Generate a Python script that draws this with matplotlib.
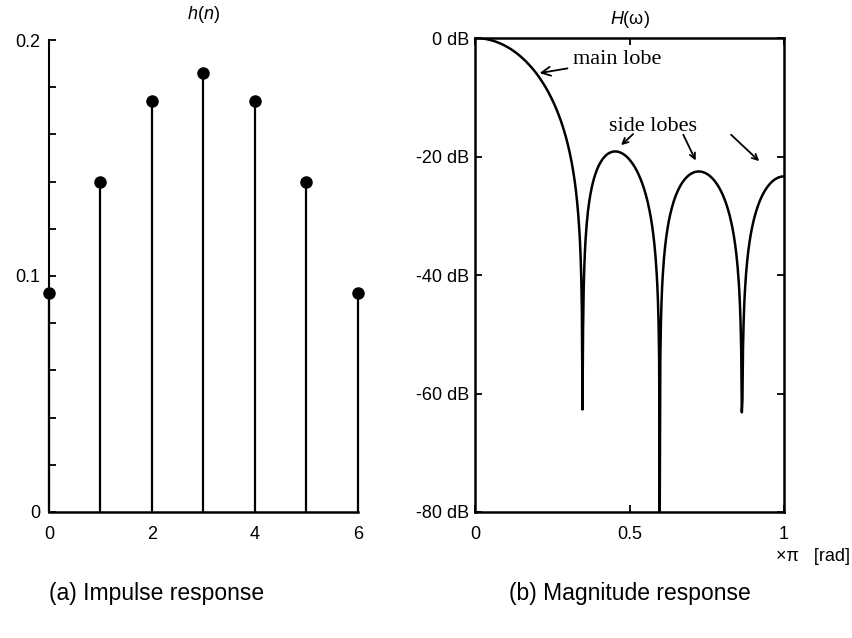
import numpy as np
import matplotlib
matplotlib.use('Agg')
import matplotlib.pyplot as plt

# impulse response
n = [0, 1, 2, 3, 4, 5, 6]
h = [0.093, 0.140, 0.174, 0.186, 0.174, 0.140, 0.093]

# panel (b) is the magnitude of the DFT of h
nfft = 1024
H = np.abs(np.fft.rfft(h, nfft))
w = np.arange(len(H)) / (len(H) - 1)
HdB = 20 * np.log10(np.maximum(H / H[0], 1e-4))

plt.rcParams['font.family'] = 'Liberation Sans'
plt.rcParams['mathtext.fontset'] = 'custom'
plt.rcParams['mathtext.rm'] = 'Liberation Sans'
plt.rcParams['mathtext.it'] = 'Liberation Sans:italic'

fig = plt.figure(figsize=(8.53, 6.38), dpi=100)

# ---- (a) impulse response
ax1 = fig.add_axes([0.0574, 0.1975, 0.3623, 0.7398])
ml, sl, bl = ax1.stem(n, h, linefmt='k-', markerfmt='ko', basefmt=' ')
plt.setp(sl, linewidth=1.6)
plt.setp(ml, markersize=8)
ax1.set_xlim(0, 6)
ax1.set_ylim(0, 0.2)
ax1.spines['top'].set_visible(False)
ax1.spines['right'].set_visible(False)
ax1.spines['left'].set_linewidth(1.5)
ax1.spines['bottom'].set_linewidth(1.8)
ax1.set_xticks([0, 2, 4, 6])
ax1.set_yticks([0, 0.1, 0.2])
ax1.set_yticklabels(['0', '0.1', '0.2'])
ax1.set_yticks(np.arange(0, 0.201, 0.02), minor=True)
ax1.tick_params(axis='x', length=0, pad=10, labelsize=13)
ax1.tick_params(axis='y', which='both', direction='in', length=5, width=1.3,
                pad=6, labelsize=13)
for a in [ml, sl]:
    a.set_clip_on(False)
ax1.set_title(r'$h(n)$', fontsize=13, pad=15)

# ---- (b) magnitude response
ax2 = fig.add_axes([0.5569, 0.1975, 0.3623, 0.7429])
ax2.plot(w, HdB, color='k', linewidth=1.8)
ax2.set_xlim(0, 1)
ax2.set_ylim(-80, 0)
ax2.set_xticks([0, 0.5, 1])
ax2.set_xticklabels(['0', '0.5', '1'])
ax2.set_yticks([0, -20, -40, -60, -80])
ax2.set_yticklabels(['0 dB', '-20 dB', '-40 dB', '-60 dB', '-80 dB'])
ax2.tick_params(direction='in', length=5, width=1.3, top=True, right=True,
                labelsize=13)
ax2.tick_params(axis='x', pad=10)
ax2.tick_params(axis='y', pad=4)
for sp in ax2.spines.values():
    sp.set_linewidth(1.8)
ax2.set_title(r'$H$(ω)', fontsize=13, pad=10)

serif = 'Liberation Serif'
arrow = dict(arrowstyle='->', color='k', lw=1.3)
ax2.annotate('main lobe', xy=(0.2, -6), xytext=(0.317, -3.7),
             fontsize=16, family=serif, va='center', arrowprops=arrow)
ax2.text(0.434, -15.0, 'side lobes', fontsize=16, family=serif, va='center')
ax2.annotate('', xy=(0.466, -18.4), xytext=(0.518, -15.9), arrowprops=arrow)
ax2.annotate('', xy=(0.718, -21.1), xytext=(0.670, -15.9), arrowprops=arrow)
ax2.annotate('', xy=(0.926, -21.1), xytext=(0.822, -16.0), arrowprops=arrow)

fig.text(0.997, 0.128, '×π   [rad]', ha='right', va='center', fontsize=13)
fig.text(0.184, 0.07, '(a) Impulse response', ha='center', va='center', fontsize=16.5)
fig.text(0.738, 0.07, '(b) Magnitude response', ha='center', va='center', fontsize=16.5)

fig.savefig('out.png', dpi=100)
